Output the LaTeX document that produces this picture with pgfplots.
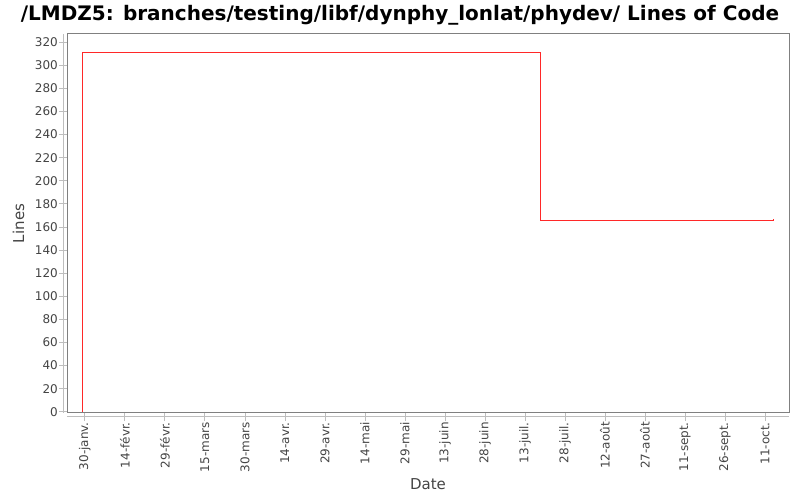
\documentclass[border=0pt]{standalone}
\usepackage{pgfplots}
\pgfplotsset{compat=1.18}
\usepackage{fontspec}
\setmainfont{DejaVu Sans}
\definecolor{txt}{RGB}{68,68,68}
\definecolor{frame}{RGB}{128,128,128}
\definecolor{tk}{RGB}{190,190,190}
\definecolor{ln}{RGB}{255,40,40}
\begin{document}
\begin{tikzpicture}[x=1pt,y=1pt]
\useasboundingbox (0,0) rectangle (800,500);
\node[font=\fontsize{20}{22}\selectfont\bfseries, anchor=base] at (400,479) {/LMDZ5: branches/testing/libf/dynphy\_lonlat/phydev/ Lines of Code};
\begin{axis}[
  at={(67pt,87pt)}, anchor=south west,
  scale only axis, width=722pt, height=379pt,
  xmin=-6.7, xmax=264, ymin=-1, ymax=327,
  axis line style={frame, line width=1pt},
  ytick={0,20,...,320},
  xtick={0,15,...,255},
  xticklabels={30-janv.,14-févr.,29-févr.,15-mars,30-mars,14-avr.,29-avr.,14-mai,29-mai,13-juin,28-juin,13-juil.,28-juil.,12-août,27-août,11-sept.,26-sept.,11-oct.},
  tick align=outside, major tick length=8pt,
  tick style={tk, line width=0.8pt},
  xtick pos=bottom, ytick pos=left,
  x tick label style={rotate=90, anchor=east, font=\fontsize{12}{13}\selectfont, text=txt, inner sep=1pt},
  y tick label style={font=\fontsize{12}{13}\selectfont, text=txt, inner sep=1pt},
  /pgf/number format/assume math mode=true,
  xlabel={Date}, ylabel={Lines},
  xlabel style={font=\fontsize{15}{16}\selectfont, text=txt, yshift=-2pt},
  ylabel style={font=\fontsize{15}{16}\selectfont, text=txt, yshift=6pt},
  clip=false,
]
\draw[tk, line width=1pt] ([xshift=-4pt]rel axis cs:0,0) -- ([xshift=-4pt]rel axis cs:0,1);
\draw[tk, line width=1pt] ([yshift=-4pt]rel axis cs:0,0) -- ([yshift=-4pt]rel axis cs:1,0);
\addplot[ln, line width=1pt, line join=miter] coordinates {
(-1,0) (-1,311) (171,311) (171,166) (258,166) (258,167)
};
\end{axis}
\end{tikzpicture}
\end{document}
